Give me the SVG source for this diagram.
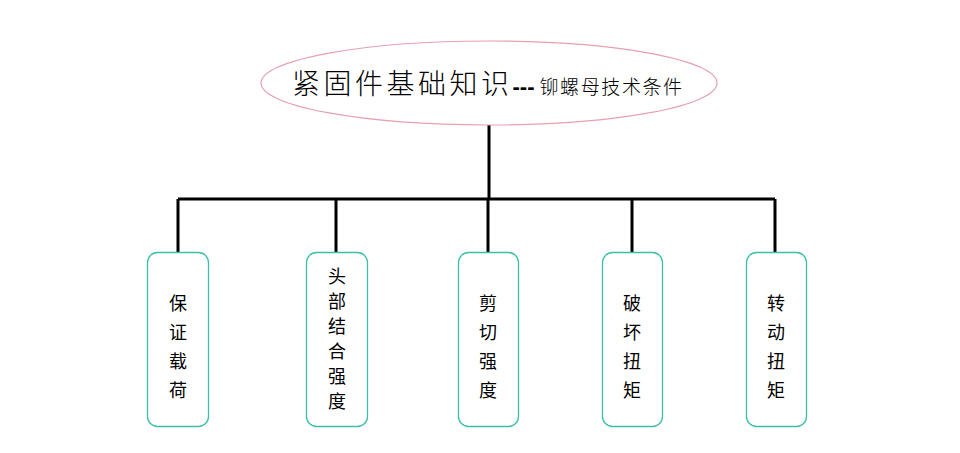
<svg xmlns="http://www.w3.org/2000/svg" width="960" height="453" viewBox="0 0 960 453">
<style>
.box{fill:#fff;stroke:#3cbfa8;stroke-width:1.3}
.t{font-family:"Noto Sans CJK SC","Liberation Sans",sans-serif;font-size:18px;text-anchor:middle;fill:#000}
.c{stroke:#000;stroke-width:3;fill:none}
</style>
<rect width="960" height="453" fill="#fff"/>
<g id="connectors">
<path class="c" d="M489 125V199M178 199H775M178 199V252M336 199V252M488 199V252M632 199V252M775 199V252"/>
</g>
<g id="title">
<ellipse cx="489" cy="83" rx="228" ry="42" fill="#fff" stroke="#e6a0b0" stroke-width="1.2"/>
<text x="292" y="94" font-family="Noto Sans CJK SC,sans-serif" font-size="28" font-weight="300" letter-spacing="3.5" fill="#000">紧固件基础知识<tspan font-family="Liberation Sans,sans-serif" font-weight="bold" font-size="22" letter-spacing="0">---</tspan><tspan font-size="19" dx="5" letter-spacing="1.6">铆螺母技术条件</tspan></text>
</g>
<g id="n1"><rect class="box" x="147.5" y="252.5" width="61" height="174" rx="10"/>
<text class="t"><tspan x="178" y="310">保</tspan><tspan x="178" y="339">证</tspan><tspan x="178" y="368">载</tspan><tspan x="178" y="397">荷</tspan></text></g>
<g id="n2"><rect class="box" x="306.5" y="252.5" width="61" height="174" rx="10"/>
<text class="t"><tspan x="337" y="283">头</tspan><tspan x="337" y="308">部</tspan><tspan x="337" y="333">结</tspan><tspan x="337" y="358">合</tspan><tspan x="337" y="383">强</tspan><tspan x="337" y="408">度</tspan></text></g>
<g id="n3"><rect class="box" x="458.5" y="252.5" width="60" height="174" rx="10"/>
<text class="t"><tspan x="488" y="310">剪</tspan><tspan x="488" y="339">切</tspan><tspan x="488" y="368">强</tspan><tspan x="488" y="397">度</tspan></text></g>
<g id="n4"><rect class="box" x="602.5" y="252.5" width="60" height="174" rx="10"/>
<text class="t"><tspan x="632" y="310">破</tspan><tspan x="632" y="339">坏</tspan><tspan x="632" y="368">扭</tspan><tspan x="632" y="397">矩</tspan></text></g>
<g id="n5"><rect class="box" x="746.5" y="252.5" width="60" height="174" rx="10"/>
<text class="t"><tspan x="776" y="310">转</tspan><tspan x="776" y="339">动</tspan><tspan x="776" y="368">扭</tspan><tspan x="776" y="397">矩</tspan></text></g>
</svg>
